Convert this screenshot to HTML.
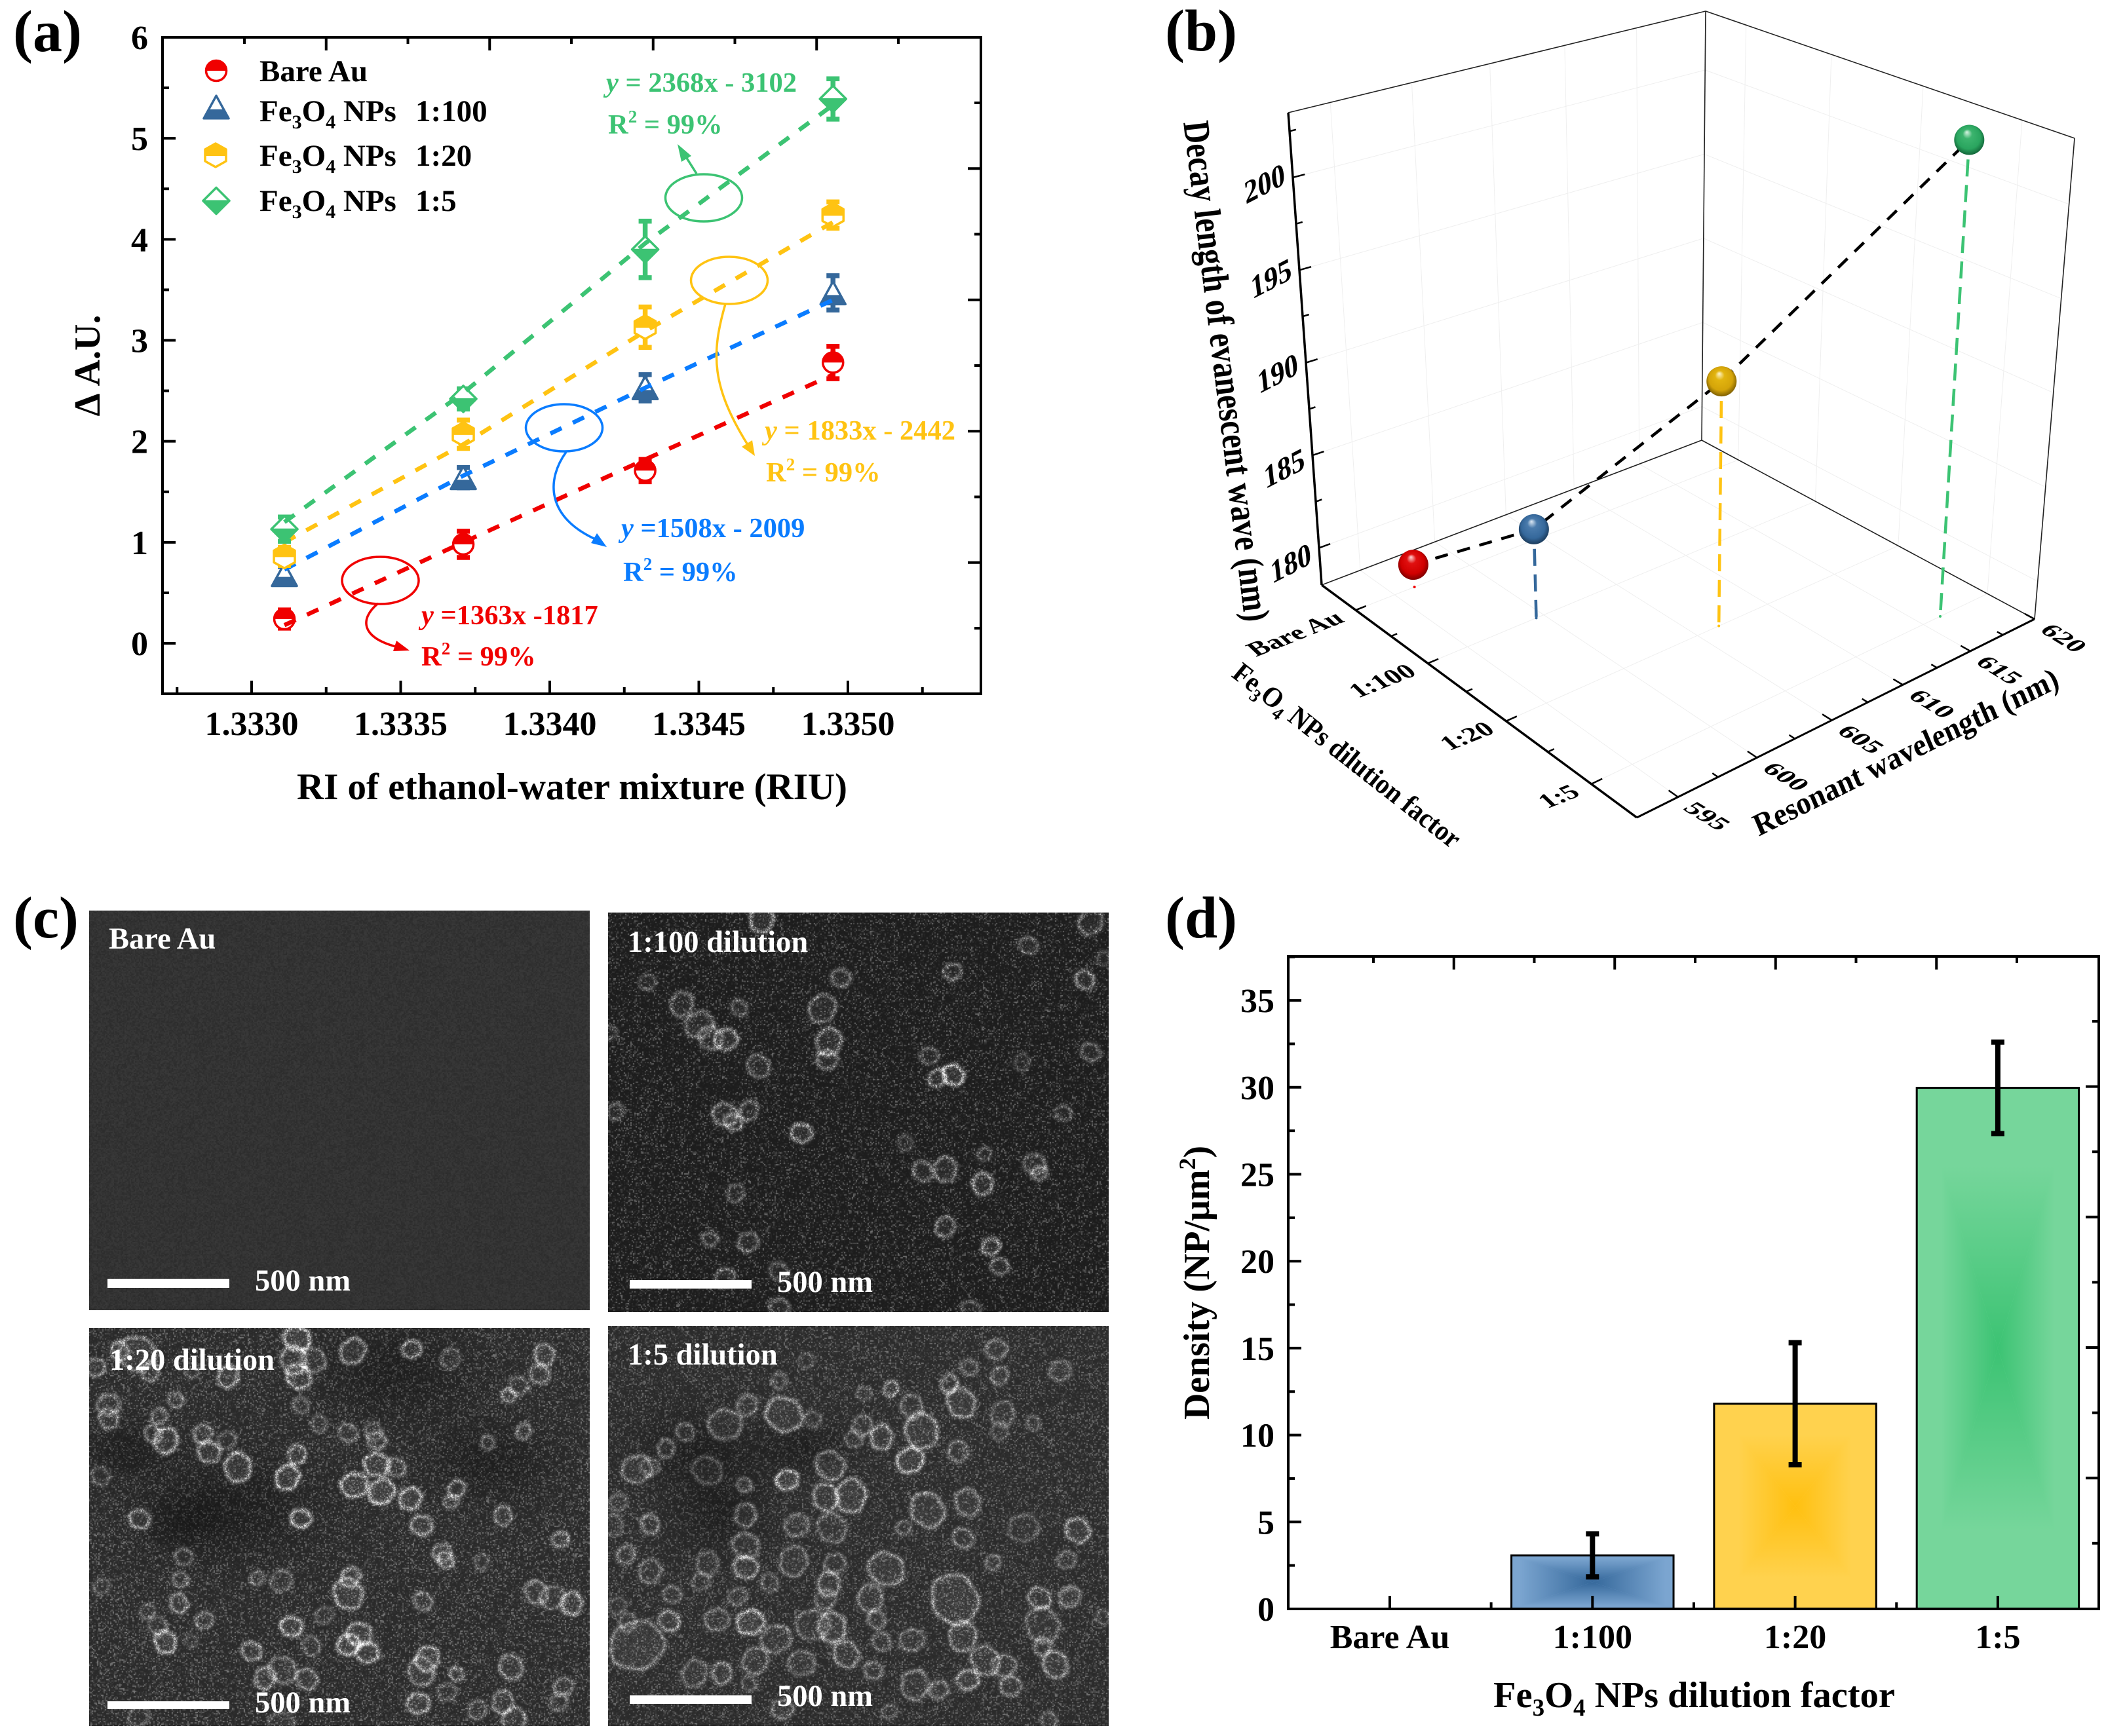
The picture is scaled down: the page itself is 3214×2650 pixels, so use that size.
<!DOCTYPE html>
<html lang="en">
<head>
<meta charset="utf-8">
<title>Fe3O4 NP sensor figure</title>
<style>
html,body{margin:0;padding:0;background:#fff;}
body{position:relative;width:3214px;height:2650px;overflow:hidden;}
canvas{position:absolute;display:block;}
svg{position:absolute;left:0;top:0;font-family:"Liberation Serif","Noto Serif CJK SC",serif;font-weight:bold;}
</style>
</head>
<body>
<canvas id="semBare" width="764" height="610" style="left:136px;top:1390px"></canvas>
<canvas id="sem100" width="764" height="610" style="left:928px;top:1393px"></canvas>
<canvas id="sem20" width="764" height="608" style="left:136px;top:2027px"></canvas>
<canvas id="sem5" width="764" height="611" style="left:928px;top:2024px"></canvas>

<svg id="fig" width="3214" height="2650" viewBox="0 0 3214 2650" xmlns="http://www.w3.org/2000/svg">
  <defs id="defs"></defs>

  <!-- panel letters -->
  <text x="20" y="78" font-size="90">(a)</text>
  <text x="1778" y="77" font-size="90">(b)</text>
  <text x="20" y="1431" font-size="90">(c)</text>
  <text x="1778" y="1431" font-size="90">(d)</text>

  <!-- panel a -->
  <g id="panelA">
    <g id="aMarks"></g>
    <rect x="248" y="57" width="1249" height="1002" fill="none" stroke="#000" stroke-width="4"/>
    <g id="aTicks"></g>
    <text x="873" y="1220" font-size="57" text-anchor="middle">RI of ethanol-water mixture (RIU)</text>
    <text transform="translate(152,558) rotate(-90)" font-size="56" text-anchor="middle">Δ A.U.</text>

    <g font-size="47">
      <g id="legendMarks"></g>
      <text x="396" y="124">Bare Au</text>
      <text x="396" y="185">Fe<tspan font-size="30" dy="11">3</tspan><tspan dy="-11">O</tspan><tspan font-size="30" dy="11">4</tspan><tspan dy="-11"> NPs</tspan><tspan x="634">1:100</tspan></text>
      <text x="396" y="253">Fe<tspan font-size="30" dy="11">3</tspan><tspan dy="-11">O</tspan><tspan font-size="30" dy="11">4</tspan><tspan dy="-11"> NPs</tspan><tspan x="634">1:20</tspan></text>
      <text x="396" y="322">Fe<tspan font-size="30" dy="11">3</tspan><tspan dy="-11">O</tspan><tspan font-size="30" dy="11">4</tspan><tspan dy="-11"> NPs</tspan><tspan x="634">1:5</tspan></text>
    </g>

    <g font-size="42.5" fill="none" stroke-width="3.5">
      <ellipse cx="580.5" cy="886" rx="58.5" ry="36" stroke="#F00000"/>
      <ellipse cx="861" cy="653" rx="58.5" ry="36" stroke="#0A7CFF"/>
      <ellipse cx="1113" cy="428" rx="58.5" ry="36" stroke="#FFC312"/>
      <ellipse cx="1074" cy="302" rx="58.5" ry="36" stroke="#3CC373"/>
      <path d="M577,921 C548,945 550,975 612,989" stroke="#F00000"/>
      <polygon points="625,993 600,994 605,978" fill="#F00000"/>
      <path d="M864,690 C835,730 830,790 915,826" stroke="#0A7CFF"/>
      <polygon points="926,835 902,829 911,814" fill="#0A7CFF"/>
      <path d="M1107,464 C1085,540 1085,590 1143,682" stroke="#FFC312"/>
      <polygon points="1152,696 1132,682 1148,672" fill="#FFC312"/>
      <path d="M1063,265 L1044,235" stroke="#3CC373"/>
      <polygon points="1034,220 1055,238 1040,247" fill="#3CC373"/>

      <text x="925" y="140" fill="#3CC373"><tspan font-style="italic">y</tspan> = 2368x - 3102</text>
      <text x="928" y="204" fill="#3CC373">R<tspan font-size="27" dy="-17">2</tspan><tspan dy="17"> = 99%</tspan></text>
      <text x="1167" y="671" fill="#FFC312"><tspan font-style="italic">y</tspan> = 1833x - 2442</text>
      <text x="1169" y="735" fill="#FFC312">R<tspan font-size="27" dy="-17">2</tspan><tspan dy="17"> = 99%</tspan></text>
      <text x="948" y="820" fill="#0A7CFF"><tspan font-style="italic">y</tspan> =1508x - 2009</text>
      <text x="951" y="887" fill="#0A7CFF">R<tspan font-size="27" dy="-17">2</tspan><tspan dy="17"> = 99%</tspan></text>
      <text x="643" y="953" fill="#F00000"><tspan font-style="italic">y</tspan> =1363x -1817</text>
      <text x="643" y="1016" fill="#F00000">R<tspan font-size="27" dy="-17">2</tspan><tspan dy="17"> = 99%</tspan></text>
    </g>
  </g>

  <!-- panel b -->
  <g id="panelB">
    <g id="bGrid"></g>
    <g id="bFrame"></g>
    <g id="bTicks"></g>
    <g id="bMarks"></g>
    <text transform="matrix(.122 .993 -1.2 .14 1806 187)" font-size="47.5">Decay length of evanescent wave (nm)</text>
    <text transform="matrix(.9 -.447 .42 .98 2684 1277)" font-size="45">Resonant wavelength (nm)</text>
    <text transform="matrix(.787 .617 -.7 .85 1878 1032)" font-size="39.5">Fe<tspan font-size="26" dy="9">3</tspan><tspan dy="-9">O</tspan><tspan font-size="26" dy="9">4</tspan><tspan dy="-9"> NPs dilution factor</tspan></text>
  </g>

  <!-- panel c labels -->
  <g font-size="46.5" fill="#fff">
    <text x="166" y="1448">Bare Au</text>
    <rect x="164" y="1952" width="186" height="14"/>
    <text x="389" y="1970">500 nm</text>
    <text x="958" y="1453">1:100 dilution</text>
    <rect x="961" y="1954" width="186" height="13"/>
    <text x="1186" y="1972">500 nm</text>
    <text x="167" y="2091">1:20 dilution</text>
    <rect x="164" y="2597" width="186" height="12"/>
    <text x="389" y="2614">500 nm</text>
    <text x="958" y="2083">1:5 dilution</text>
    <rect x="961" y="2588" width="186" height="13"/>
    <text x="1186" y="2604">500 nm</text>
  </g>

  <!-- panel d -->
  <g id="panelD">
    <g id="dBars"></g>
    <rect x="1966" y="1460" width="1237" height="996" fill="none" stroke="#000" stroke-width="4"/>
    <g id="dTicks"></g>
    <g id="dErrs"></g>
    <text x="2279" y="2606" font-size="56.5">Fe<tspan font-size="37" dy="13">3</tspan><tspan dy="-13">O</tspan><tspan font-size="37" dy="13">4</tspan><tspan dy="-13"> NPs dilution factor</tspan></text>
    <text transform="translate(1845,1958) rotate(-90)" font-size="56" text-anchor="middle">Density (NP/μm<tspan font-size="36" dy="-21">2</tspan><tspan dy="21">)</tspan></text>
  </g>
</svg>

<script>
/* ---------- Panel (a) data ---------- */
const riValues = [1.33311, 1.33371, 1.33432, 1.33495];
const bareAu = [0.24, 0.98, 1.71, 2.78];
const bareAuErr = [0.09, 0.13, 0.11, 0.16];
const bareAuFit = [0.18, 1.00, 1.82, 2.66];
const np100 = [0.68, 1.64, 2.53, 3.47];
const np100Err = [0.08, 0.10, 0.13, 0.17];
const np100Fit = [0.73, 1.66, 2.53, 3.40];
const np20 = [0.86, 2.07, 3.13, 4.24];
const np20Err = [0.09, 0.14, 0.20, 0.13];
const np20Fit = [1.00, 1.97, 3.09, 4.17];
const np5 = [1.13, 2.42, 3.90, 5.39];
const np5Err = [0.12, 0.10, 0.28, 0.20];
const np5Fit = [1.20, 2.48, 3.96, 5.33];
const aXTicks = [1.3330, 1.3335, 1.3340, 1.3345, 1.3350];
const aXTickLabels = ['1.3330', '1.3335', '1.3340', '1.3345', '1.3350'];
const aYTicks = [0, 1, 2, 3, 4, 5, 6];

/* ---------- Panel (b) data ---------- */
const dilutionCats = ['Bare Au', '1:100', '1:20', '1:5'];
const resonantWavelength = [596.3, 599.5, 606.5, 616.3];
const decayLength = [179.2, 182.7, 190.9, 203.3];
const wavelengthTicks = [595, 600, 605, 610, 615, 620];
const decayTicks = [180, 185, 190, 195, 200];

/* ---------- Panel (d) data ---------- */
const densityCats = ['Bare Au', '1:100', '1:20', '1:5'];
const densityValues = [0, 3.08, 11.8, 29.97];
const densityErr = [0, 1.24, 3.51, 2.63];
const densityTicks = [0, 5, 10, 15, 20, 25, 30, 35];

const NS = 'http://www.w3.org/2000/svg';
function mk(tag, attrs, parent) {
  const e = document.createElementNS(NS, tag);
  for (const k in attrs) e.setAttribute(k, attrs[k]);
  if (parent) parent.appendChild(e);
  return e;
}
const RED = '#F00000', BLUE = '#35689B', LBLUE = '#0A7CFF', YEL = '#FFC312', GRN = '#3CC373';

/* ---------- Panel (a) ---------- */
const ax = v => 384 + (v - 1.3330) / 0.0005 * 227.5;
const ay = v => 982 - v * 154.17;
const aTicks = document.getElementById('aTicks');
const aMarks = document.getElementById('aMarks');

function tickLine(parent, x1, y1, x2, y2, sw, name) {
  const el = mk('line', {x1: x1, y1: y1, x2: x2, y2: y2, stroke: '#000', 'stroke-width': sw}, parent);
  
  
  return el;
}
aXTicks.forEach((t, i) => {
  tickLine(aTicks, ax(t), 1059, ax(t), 1039, 4, 'x-tick-a');
  tickLine(aTicks, ax(t) + 113.75, 1059, ax(t) + 113.75, 1049, 4, 'x-minor-tick-a');
  const el = mk('text', {x: ax(t), y: 1122, 'font-size': 52, 'text-anchor': 'middle'}, aTicks);
  el.textContent = aXTickLabels[i];
  
  
});
tickLine(aTicks, ax(1.3330) - 113.75, 1059, ax(1.3330) - 113.75, 1049, 4, 'x-minor-tick-a');
aYTicks.forEach(t => {
  tickLine(aTicks, 248, ay(t), 268, ay(t), 4, 'y-tick-a');
  if (t < 6) tickLine(aTicks, 248, ay(t + 0.5), 258, ay(t + 0.5), 4, 'y-minor-tick-a');
  const el = mk('text', {x: 226, y: ay(t) + 18, 'font-size': 52, 'text-anchor': 'end'}, aTicks);
  el.textContent = String(t);
  
  
});
for (let k = 0; k <= 8; k++) {
  const x = 373 + 124.75 * k;
  tickLine(aTicks, x, 57, x, k % 2 ? 77 : 67, 4, 'top-tick-a');
  const y = 157 + 100.25 * k;
  tickLine(aTicks, 1497, y, k % 2 ? 1477 : 1487, y, 4, 'right-tick-a');
}

function marker(parent, type, x, y, color, name) {
  const g = mk('g', {}, parent);
  
  
  const o = {fill: '#fff', stroke: color, 'stroke-width': 3.5, 'stroke-linejoin': 'round'};
  const p = pts => pts.map(a => (x + a[0]) + ',' + (y + a[1])).join(' ');
  if (type === 'circle') {
    mk('circle', Object.assign({cx: x, cy: y, r: 15.5}, o), g);
    mk('path', {d: `M${x - 16},${y} A16 16 0 0 1 ${x + 16},${y} Z`, fill: color}, g);
  } else if (type === 'triangle') {
    mk('polygon', Object.assign({points: p([[0, -17.3], [19, 17.3], [-19, 17.3]])}, o), g);
    mk('polygon', {points: p([[-11.4, 3.4], [11.4, 3.4], [20, 17.3], [-20, 17.3]]), fill: color}, g);
  } else if (type === 'hexagon') {
    mk('polygon', Object.assign({points: p([[0, -18], [16, -9], [16, 9], [0, 18], [-16, 9], [-16, -9]])}, o), g);
    mk('polygon', {points: p([[-16, 1], [-16, -9], [0, -18], [16, -9], [16, 1]]), fill: color}, g);
  } else {
    mk('polygon', Object.assign({points: p([[0, -20], [20, 0], [0, 20], [-20, 0]])}, o), g);
    mk('polygon', {points: p([[-21, -1], [21, -1], [0, 21]]), fill: color}, g);
  }
  return g;
}

function drawSeries(name, type, vals, errs, fit, color, lineColor) {
  const g = mk('g', {}, aMarks);
  
  
  vals.forEach((v, i) => {
    const x = ax(riValues[i]);
    const top = ay(v + errs[i]), bot = ay(v - errs[i]);
    const eb = mk('path', {
      d: `M${x},${top} V${bot} M${x - 10},${top} H${x + 10} M${x - 10},${bot} H${x + 10}`,
      stroke: color, 'stroke-width': 7.5, fill: 'none'
    }, g);
    
    
    marker(g, type, x, ay(v), color, 'point-' + name);
  });
  const line = mk('polyline', {
    points: fit.map((v, i) => ax(riValues[i]) + ',' + ay(v)).join(' '),
    fill: 'none', stroke: lineColor, 'stroke-width': 6.5, 'stroke-dasharray': '19 19'
  }, g);
  
  
}
drawSeries('bare-au', 'circle', bareAu, bareAuErr, bareAuFit, RED, RED);
drawSeries('1-100', 'triangle', np100, np100Err, np100Fit, BLUE, LBLUE);
drawSeries('1-20', 'hexagon', np20, np20Err, np20Fit, YEL, YEL);
drawSeries('1-5', 'diamond', np5, np5Err, np5Fit, GRN, GRN);

const lm = document.getElementById('legendMarks');
marker(lm, 'circle', 330, 108, RED, 'legend-marker-bare-au');
marker(lm, 'triangle', 330, 163.5, BLUE, 'legend-marker-1-100');
marker(lm, 'hexagon', 329, 237, YEL, 'legend-marker-1-20');
marker(lm, 'diamond', 330, 306.5, GRN, 'legend-marker-1-5');

/* ---------- Panel (b) ---------- */
function homography(p0, p1, p2, p3) {
  const dx1 = p1[0] - p2[0], dx2 = p3[0] - p2[0], sx = p0[0] - p1[0] + p2[0] - p3[0];
  const dy1 = p1[1] - p2[1], dy2 = p3[1] - p2[1], sy = p0[1] - p1[1] + p2[1] - p3[1];
  const den = dx1 * dy2 - dx2 * dy1;
  const g = (sx * dy2 - dx2 * sy) / den, h = (dx1 * sy - sx * dy1) / den;
  const a = p1[0] - p0[0] + g * p1[0], b = p3[0] - p0[0] + h * p3[0], c = p0[0];
  const d = p1[1] - p0[1] + g * p1[1], e = p3[1] - p0[1] + h * p3[1], f = p0[1];
  return (u, v) => {
    const w = g * u + h * v + 1;
    return [(a * u + b * v + c) / w, (d * u + e * v + f) / w];
  };
}
const cL = [2017, 893], cF = [2498, 1248], cR = [3105, 945], cB = [2597, 672];
const cLT = [1966, 172], cFT = [2493, 422], cRT = [3166, 211], cBT = [2603, 17];
const floorH = homography(cL, cF, cR, cB);
const topH = homography(cLT, cFT, cRT, cBT);
function pt3(u, v, h) {
  const a = floorH(u, v), b = topH(u, v);
  return [a[0] + (b[0] - a[0]) * h, a[1] + (b[1] - a[1]) * h];
}
const catU = i => (i + 0.5) / 4;
const wlV = w => (w - 592.5) / 27.5;
const zH = z => (z - 178) / 25.5;

const bGrid = document.getElementById('bGrid');
const bFrame = document.getElementById('bFrame');
const bTicks = document.getElementById('bTicks');
const bMarks = document.getElementById('bMarks');

function seg(parent, a, b, color, sw, name) {
  const el = mk('line', {x1: a[0], y1: a[1], x2: b[0], y2: b[1], stroke: color, 'stroke-width': sw}, parent);
  
  
  return el;
}
const GRIDC = '#efefef';
for (let w = 595; w <= 617.5; w += 5) {
  const v = wlV(w);
  seg(bGrid, pt3(0, v, 0), pt3(0, v, 1), GRIDC, 1, 'grid-wall-left-wavelength');
  seg(bGrid, pt3(0, v, 0), pt3(1, v, 0), GRIDC, 1, 'grid-floor-wavelength');
}
for (let z = 180; z <= 202.5; z += 5) {
  seg(bGrid, pt3(0, 0, zH(z)), pt3(0, 1, zH(z)), GRIDC, 1, 'grid-wall-left-decay');
  seg(bGrid, pt3(0, 1, zH(z)), pt3(1, 1, zH(z)), GRIDC, 1, 'grid-wall-right-decay');
}
for (let i = 0; i < 3.6; i += 1) {
  const u = catU(i);
  seg(bGrid, pt3(u, 0, 0), pt3(u, 1, 0), GRIDC, 1, 'grid-floor-dilution');
  seg(bGrid, pt3(u, 1, 0), pt3(u, 1, 1), GRIDC, 1, 'grid-wall-right-dilution');
}
seg(bFrame, cLT, cBT, '#222', 1.6, 'frame-edge-top-left');
seg(bFrame, cBT, cRT, '#222', 1.6, 'frame-edge-top-right');
seg(bFrame, cBT, cB, '#222', 1.6, 'frame-edge-back');
seg(bFrame, cL, cB, '#222', 1.6, 'frame-edge-floor-left');
seg(bFrame, cB, cR, '#222', 1.6, 'frame-edge-floor-right');
seg(bFrame, cRT, cR, '#222', 1.6, 'frame-edge-right');
seg(bFrame, cL, cLT, '#000', 3.5, 'z-axis-b');
seg(bFrame, cL, cF, '#000', 3.5, 'x-axis-b');
seg(bFrame, cF, cR, '#000', 3, 'y-axis-b');

dilutionCats.forEach((c, i) => {
  const u = catU(i);
  const a = pt3(u, 0, 0);
  seg(bTicks, a, pt3(u, 0.024, 0), '#000', 2.5, 'x-tick-b');
  if (i < 3) seg(bTicks, pt3(catU(i + 0.5), 0, 0), pt3(catU(i + 0.5), 0.014, 0), '#000', 2.5, 'x-minor-tick-b');
  const el = mk('text', {
    'font-size': 42, 'text-anchor': 'end',
    transform: `matrix(.93 -.37 .65 .62 ${a[0] - 15} ${a[1] + 17})`
  }, bTicks);
  el.textContent = c;
  
  
});
wavelengthTicks.forEach(w => {
  const v = wlV(w);
  const a = pt3(1, v, 0);
  seg(bTicks, a, pt3(0.975, v, 0), '#000', 2.5, 'y-tick-b');
  if (w < 620) seg(bTicks, pt3(1, wlV(w + 2.5), 0), pt3(0.985, wlV(w + 2.5), 0), '#000', 2.5, 'y-minor-tick-b');
  const el = mk('text', {
    'font-size': 44,
    transform: `matrix(.85 .52 -.72 .42 ${a[0] + 6} ${a[1] + 18})`
  }, bTicks);
  el.textContent = String(w);
  
  
});
decayTicks.forEach(z => {
  const a = pt3(0, 0, zH(z));
  seg(bTicks, a, pt3(0, 0.026, zH(z)), '#000', 2.5, 'z-tick-b');
  seg(bTicks, pt3(0, 0, zH(z + 2.5)), pt3(0, 0.014, zH(z + 2.5)), '#000', 2.5, 'z-minor-tick-b');
  const el = mk('text', {
    'font-size': 46,
    transform: `matrix(.89 -.46 .12 1.05 ${a[0] - 72} ${a[1] + 41 + (200 - z) * 0.7})`
  }, bTicks);
  el.textContent = String(z);
  
  
});

const sphereColors = [
  ['#ffd9d9', '#e01010', '#d00000', '#6d0000'],
  ['#dfeaf5', '#4a7bac', '#35689b', '#16324f'],
  ['#fff6cf', '#e2b40f', '#d4a409', '#6e5200'],
  ['#d9f5e4', '#3cb46e', '#2aa55f', '#0e5a32']
];
const defs = document.getElementById('defs');
sphereColors.forEach((c, i) => {
  const rg = mk('radialGradient', {id: 'sphere' + i, cx: '50%', cy: '48%', r: '56%', fx: '42%', fy: '24%'}, defs);
  mk('stop', {offset: '0', 'stop-color': c[0]}, rg);
  mk('stop', {offset: '0.28', 'stop-color': c[1]}, rg);
  mk('stop', {offset: '0.7', 'stop-color': c[2]}, rg);
  mk('stop', {offset: '1', 'stop-color': c[3]}, rg);
});
const dropColors = [RED, BLUE, YEL, GRN];
const pts3 = decayLength.map((z, i) => pt3(catU(i), wlV(resonantWavelength[i]), zH(z)));
dilutionCats.forEach((c, i) => {
  const foot = pt3(catU(i), wlV(resonantWavelength[i]), 0);
  const s = pts3[i];
  const dist = Math.hypot(foot[0] - s[0], foot[1] - s[1]);
  if (dist > 45) {
    const t = 30 / dist;
    const start = [s[0] + (foot[0] - s[0]) * t, s[1] + (foot[1] - s[1]) * t];
    const el = mk('line', {
      x1: start[0], y1: start[1], x2: foot[0], y2: foot[1],
      stroke: dropColors[i], 'stroke-width': 4.5, 'stroke-dasharray': '26 13'
    }, bMarks);
    
    
  }
  const d = mk('circle', {cx: foot[0], cy: foot[1], r: 2, fill: dropColors[i]}, bMarks);
  
  
});
const conn = mk('polyline', {
  points: pts3.map(p => p[0] + ',' + p[1]).join(' '),
  fill: 'none', stroke: '#000', 'stroke-width': 4.5, 'stroke-dasharray': '20 15'
}, bMarks);


pts3.forEach((p, i) => {
  const el = mk('circle', {cx: p[0], cy: p[1], r: 23, fill: `url(#sphere${i})`}, bMarks);
  
  
});

/* ---------- Panel (d) ---------- */
const dx = i => 2121 + i * 309.3;
const dy = v => 2456 - v * 26.54;
const dTicks = document.getElementById('dTicks');
const dBars = document.getElementById('dBars');
const dErrs = document.getElementById('dErrs');
const barColors = [null, ['#7BA5D0', '#35689B'], ['#FFD24E', '#FFC010'], ['#76D69B', '#3CC373']];
barColors.forEach((c, i) => {
  if (!c) return;
  [['T', 0, 0, 0, 1], ['B', 0, 1, 0, 0], ['L', 0, 0, 1, 0], ['R', 1, 0, 0, 0]].forEach(d => {
    const lg = mk('linearGradient', {id: 'bar' + i + d[0], x1: d[1], y1: d[2], x2: d[3], y2: d[4]}, defs);
    mk('stop', {offset: i === 1 ? 0.1 : 0.3, 'stop-color': c[0]}, lg);
    mk('stop', {offset: 1, 'stop-color': c[1]}, lg);
  });
});
densityCats.forEach((c, i) => {
  const x = dx(i), w = 0.8 * 309.3, x0 = x - w / 2, x1 = x + w / 2;
  const y0 = dy(densityValues[i]), y1 = dy(0), cx = x, cy = (y0 + y1) / 2;
  if (densityValues[i] > 0) {
    const g = mk('g', {}, dBars);
    
    
    mk('rect', {x: x0, y: y0, width: w, height: y1 - y0, fill: barColors[i][0]}, g);
    mk('polygon', {points: `${x0},${y0} ${x1},${y0} ${cx},${cy}`, fill: `url(#bar${i}T)`}, g);
    mk('polygon', {points: `${x0},${y1} ${x1},${y1} ${cx},${cy}`, fill: `url(#bar${i}B)`}, g);
    mk('polygon', {points: `${x0},${y0} ${x0},${y1} ${cx},${cy}`, fill: `url(#bar${i}L)`}, g);
    mk('polygon', {points: `${x1},${y0} ${x1},${y1} ${cx},${cy}`, fill: `url(#bar${i}R)`}, g);
    mk('rect', {x: x0, y: y0, width: w, height: y1 - y0, fill: 'none', stroke: '#000', 'stroke-width': 3}, g);
    const t = dy(densityValues[i] + densityErr[i]), b = dy(densityValues[i] - densityErr[i]);
    const eb = mk('path', {
      d: `M${x},${t} V${b} M${x - 10},${t} H${x + 10} M${x - 10},${b} H${x + 10}`,
      stroke: '#000', 'stroke-width': 8, fill: 'none'
    }, dErrs);
    
    
  }
  tickLine(dTicks, x, 2456, x, 2436, 4, 'x-tick-d');
  if (i < 3) tickLine(dTicks, x + 154.65, 2456, x + 154.65, 2446, 4, 'x-minor-tick-d');
  const el = mk('text', {x: x, y: 2516, 'font-size': 52, 'text-anchor': 'middle'}, dTicks);
  el.textContent = c;
  
  
});
densityTicks.forEach(t => {
  tickLine(dTicks, 1966, dy(t), 1986, dy(t), 4, 'y-tick-d');
  tickLine(dTicks, 1966, dy(t + 2.5), 1976, dy(t + 2.5), 4, 'y-minor-tick-d');
  const el = mk('text', {x: 1945, y: dy(t) + 18, 'font-size': 52, 'text-anchor': 'end'}, dTicks);
  el.textContent = String(t);
  
  
});
for (let k = 0; k <= 8; k++) {
  const x = 2096 + 122.75 * k;
  tickLine(dTicks, x, 1460, x, k % 2 ? 1480 : 1470, 4, 'top-tick-d');
  const y = 1559 + 99.6 * k;
  tickLine(dTicks, 3203, y, k % 2 ? 3183 : 3193, y, 4, 'right-tick-d');
}

/* ---------- Panel (c): procedural SEM textures ---------- */
const particles100 = [[480,25,38,.8],[1510,35,38,.5],[1315,128,26,.45],[1078,230,26,.5],[728,255,28,.55],[1492,262,28,.6],[122,272,24,.3],[230,358,36,.5],[410,372,24,.45],[670,375,42,.55],[285,438,42,.55],[320,490,36,.5],[368,495,34,.7],[690,505,40,.65],[685,575,30,.55],[470,600,34,.5],[1005,560,26,.4],[1510,545,28,.45],[1295,585,24,.3],[1080,635,32,.95],[1030,648,26,.65],[22,778,24,.45],[365,790,36,.6],[392,820,26,.65],[440,775,28,.5],[605,862,30,.7],[1425,785,24,.35],[930,900,22,.3],[1178,945,20,.35],[985,1012,30,.5],[1055,1005,36,.55],[1335,985,32,.5],[1350,1020,22,.55],[1172,1062,32,.7],[398,1098,26,.4],[1055,1230,30,.55],[318,1278,22,.45],[438,1290,30,.5],[1198,1307,26,.75],[1225,1385,26,.5],[365,1430,30,.45],[535,1405,28,.4],[535,1545,28,.5],[1135,1555,28,.4],[1550,178,20,.3],[5,470,20,.3]];
const particles20 = [[150,100,60,.55],[95,90,30,.6],[190,170,30,.55],[20,155,30,.5],[320,165,25,.3],[435,190,35,.7],[650,40,42,.85],[825,90,42,.65],[1010,82,30,.65],[1130,120,32,.35],[640,125,45,.6],[700,125,40,.5],[655,190,40,.75],[1425,105,34,.6],[1410,180,32,.55],[1345,225,30,.4],[1312,265,22,.6],[270,282,24,.5],[60,300,36,.5],[60,355,32,.55],[218,345,26,.5],[662,300,26,.4],[355,415,30,.6],[240,440,40,.75],[200,415,28,.5],[430,440,30,.35],[375,485,36,.6],[465,545,46,.8],[650,495,30,.7],[620,585,40,.9],[1360,405,24,.55],[1248,448,22,.45],[720,375,26,.35],[810,410,30,.45],[900,440,30,.5],[890,405,28,.35],[900,535,40,.75],[960,545,30,.5],[830,615,42,.8],[915,640,42,.85],[1005,668,36,.8],[1150,630,28,.6],[1132,680,22,.55],[35,580,30,.35],[158,748,32,.65],[662,745,32,.85],[1295,735,30,.55],[1040,772,34,.65],[1475,828,26,.6],[1105,880,30,.5],[1115,908,26,.65],[1228,915,24,.3],[295,895,28,.35],[285,985,25,.45],[525,980,22,.45],[600,990,35,.4],[38,1012,26,.3],[818,975,32,.65],[810,1040,50,.65],[1045,1070,30,.5],[1400,1035,38,.5],[1510,1078,36,.7],[1450,1055,40,.4],[280,1078,30,.55],[182,1110,24,.3],[215,1165,30,.35],[360,1145,28,.45],[238,1230,36,.75],[320,1225,20,.25],[632,1168,34,.8],[735,1125,28,.3],[845,1200,40,.7],[812,1240,36,.8],[870,1270,36,.7],[695,1245,30,.35],[508,1265,32,.55],[1058,1295,40,.75],[1040,1345,45,.5],[1150,1355,22,.55],[1320,1328,40,.55],[605,1340,45,.45],[550,1370,35,.6],[680,1375,35,.55],[1120,1425,30,.35],[1030,1470,35,.7],[1485,1405,30,.45],[1470,1465,28,.4],[1295,1465,36,.55],[1215,1495,30,.4],[1330,1535,40,.5],[155,1520,35,.3],[600,1550,40,.35]];
const particles5 = [[1215,90,35,.5],[620,135,26,.25],[535,215,25,.45],[1130,160,28,.4],[1225,195,30,.5],[1415,175,36,.45],[1068,225,30,.6],[885,245,25,.7],[800,265,24,.3],[1105,300,50,.65],[950,315,40,.45],[1235,345,42,.4],[1330,380,24,.35],[1225,410,30,.3],[435,310,35,.5],[550,345,62,.7],[365,385,55,.55],[240,415,30,.45],[640,365,28,.35],[795,390,35,.45],[855,435,40,.7],[980,410,60,.7],[945,525,45,.85],[1095,490,35,.5],[770,440,30,.4],[180,480,30,.5],[90,560,50,.55],[130,550,30,.4],[310,565,50,.35],[695,545,50,.6],[560,602,36,.9],[425,622,24,.5],[30,690,30,.4],[680,670,45,.65],[760,665,55,.75],[15,780,35,.35],[130,775,32,.55],[430,740,38,.55],[1000,720,60,.65],[1125,690,45,.55],[700,790,50,.45],[590,780,40,.45],[1300,790,50,.35],[925,790,25,.4],[1110,830,35,.5],[1470,800,42,.7],[55,895,30,.55],[130,960,40,.45],[430,860,45,.55],[430,945,40,.7],[310,930,40,.4],[580,920,50,.45],[710,930,35,.4],[870,950,60,.65],[1205,925,25,.45],[1435,915,30,.45],[290,1000,30,.3],[505,1005,30,.4],[690,1010,40,.6],[200,1050,30,.45],[405,1060,30,.4],[820,1065,45,.55],[680,1070,35,.45],[1085,1070,85,.7],[1350,1065,38,.6],[1445,1060,36,.6],[25,1095,30,.3],[190,1155,35,.7],[340,1150,40,.5],[445,1160,45,.85],[840,1150,30,.5],[640,1170,55,.45],[700,1180,50,.7],[1360,1170,60,.45],[1550,1140,25,.35],[90,1250,90,.6],[60,1160,30,.4],[525,1225,50,.5],[855,1235,32,.45],[950,1230,40,.45],[1110,1215,50,.6],[1360,1255,30,.5],[745,1285,45,.6],[460,1310,45,.55],[605,1320,45,.45],[1180,1310,50,.55],[1400,1325,45,.65],[1240,1330,40,.45],[830,1350,30,.5],[270,1360,45,.45],[355,1360,35,.6],[1125,1385,36,.7],[1260,1410,35,.55],[960,1405,50,.5],[1035,1425,32,.55],[440,1400,25,.35],[545,1500,35,.5],[880,1510,25,.35],[1380,1545,28,.4]];
const blotches20 = [[950,170,230,190],[470,690,250,200],[1250,520,180,150],[120,480,130,120],[300,760,130,120]];
const blotches5 = [[280,480,200,150],[350,720,140,170],[620,480,130,90]];

function sem(id, seed, base, amp, pow, parts, blotches, gain, rScale) {
  const cv = document.getElementById(id);
  const W = cv.width, H = cv.height;
  const ctx = cv.getContext('2d');
  let s = seed >>> 0;
  const rnd = () => { s = (Math.imul(s, 1664525) + 1013904223) >>> 0; return s / 4294967296; };
  const SX = 2.052, SY = 2.566;
  const buf = new Float32Array(W * H);
  for (let y = 0; y < H; y += 2) {
    for (let x = 0; x < W; x += 2) {
      const v = base + amp * Math.pow(rnd(), pow);
      for (let j = 0; j < 2 && y + j < H; j++) {
        for (let i = 0; i < 2 && x + i < W; i++) {
          buf[(y + j) * W + x + i] = v + (i + j === 1 ? 3 : -3);
        }
      }
    }
  }
  blotches.forEach(b => {
    const cx = b[0] / SX, cy = b[1] / SY, rx = b[2] / SX, ry = b[3] / SY;
    for (let y = 0; y < H; y++) {
      for (let x = 0; x < W; x++) {
        const d = ((x - cx) / rx) ** 2 + ((y - cy) / ry) ** 2;
        if (d < 6) buf[y * W + x] *= 1 - 0.28 * Math.exp(-d);
      }
    }
  });
  parts.forEach(p => {
    const cx = p[0] / SX, cy = p[1] / SY, r = p[2] / SX * rScale, st = p[3];
    const ph1 = rnd() * 6.28, ph2 = rnd() * 6.28;
    const m = Math.ceil(r * 1.4 + 9);
    const x0 = Math.max(0, Math.floor(cx - m)), x1 = Math.min(W - 1, Math.ceil(cx + m));
    const y0 = Math.max(0, Math.floor(cy - m)), y1 = Math.min(H - 1, Math.ceil(cy + m));
    for (let y = y0; y <= y1; y++) {
      for (let x = x0; x <= x1; x++) {
        const dx = x - cx, dy = y - cy, d = Math.hypot(dx, dy), th = Math.atan2(dy, dx);
        const rad = r * (1 + 0.07 * Math.sin(2 * th + ph1) + 0.04 * Math.sin(5 * th + ph2));
        const ring = Math.exp(-(((d - rad) / 3.4) ** 2));
        const inner = d < rad ? 0.16 : 0;
        const n = rnd();
        buf[y * W + x] += st * gain * (0.8 * ring + inner) * (0.25 + 1.5 * n * n);
      }
    }
  });
  const img = ctx.createImageData(W, H);
  for (let k = 0; k < W * H; k++) {
    const v = Math.min(255, Math.max(0, buf[k]));
    img.data[k * 4] = v; img.data[k * 4 + 1] = v; img.data[k * 4 + 2] = v; img.data[k * 4 + 3] = 255;
  }
  ctx.putImageData(img, 0, 0);
}
sem('semBare', 11, 44, 14, 1, [], [], 0, 1);
sem('sem100', 22, 29, 85, 7, particles100, [], 190, 1);
sem('sem20', 33, 42, 85, 5, particles20, blotches20, 190, 0.92);
sem('sem5', 44, 43, 78, 5, particles5, blotches5, 175, 0.88);
</script>
</body>
</html>
